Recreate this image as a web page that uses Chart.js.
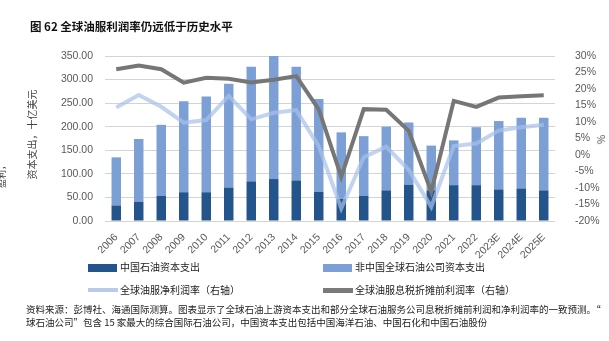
<!DOCTYPE html>
<html>
<head>
<meta charset="utf-8">
<script src="https://cdn.jsdelivr.net/npm/chart.js@4"></script>
<style>
  html, body { margin: 0; padding: 0; background: #fff; }
  #wrap { position: relative; width: 609px; height: 341px; overflow: hidden; font-family: "Noto Sans CJK SC", "Noto Sans", sans-serif; }
  #wrap canvas { position: absolute; left: 0; top: 0; }
  .txt { position: absolute; white-space: nowrap; color: #222; }
  .title { left: 30px; top: 18px; font-size: 11.5px; font-weight: bold; color: #111; }
  .ytitle { font-size: 10px; color: #444; transform-origin: center center; transform: rotate(-90deg); }
  .leg { font-size: 10px; line-height: 12px; color: #222; }
  .sw { position: absolute; }
  .src { left: 26px; font-size: 9.5px; line-height: 12px; color: #222; }
</style>
</head>
<body>
<div id="wrap">
  <canvas id="chart" width="609" height="341"></canvas>

  <div class="txt title">图 62 全球油服利润率仍远低于历史水平</div>

  <!-- axis titles -->
  <div class="txt ytitle" style="left:-14px; top:127px;">资本支出，十亿美元</div>
  <div class="txt ytitle" style="left:596px; top:132px;">%</div>
  <div class="txt ytitle" style="left:-12px; top:168px; font-size:9px;">盈利，</div>

  <!-- legend -->
  <div class="sw" style="left:88px; top:264px; width:29px; height:8px; background:#23548c;"></div>
  <div class="txt leg" style="left:120px; top:261px;">中国石油资本支出</div>
  <div class="sw" style="left:323px; top:264px; width:29px; height:8px; background:#7ca0d6;"></div>
  <div class="txt leg" style="left:355px; top:261px;">非中国全球石油公司资本支出</div>
  <div class="sw" style="left:88px; top:288px; width:30px; height:4px; background:#b9cbea;"></div>
  <div class="txt leg" style="left:120px; top:284px;">全球油服净利润率（右轴）</div>
  <div class="sw" style="left:323px; top:288px; width:30px; height:5px; background:#7a7a7a;"></div>
  <div class="txt leg" style="left:355px; top:284px;">全球油服息税折摊前利润率（右轴）</div>

  <!-- source -->
  <div class="txt src" style="top:303px;">资料来源：彭博社、海通国际测算。图表显示了全球石油上游资本支出和部分全球石油服务公司息税折摊前利润和净利润率的一致预测。“</div>
  <div class="txt src" style="top:316px;">球石油公司”包含 15 家最大的综合国际石油公司，中国资本支出包括中国海洋石油、中国石化和中国石油股份</div>
</div>

<script>
// 年份
const years = ['2006', '2007', '2008', '2009', '2010', '2011', '2012', '2013', '2014', '2015',
               '2016', '2017', '2018', '2019', '2020', '2021', '2022', '2023E', '2024E', '2025E'];

// 资本支出（十亿美元）
const chinaCapex = [33, 41, 53, 61, 61, 71, 84, 89, 86, 62, 47, 53, 65, 77, 65, 76, 76, 67, 69, 65];
const nonChinaCapex = [102, 133, 151, 193, 203, 220, 243, 261, 241, 197, 141, 127, 135, 132, 95, 95, 123, 145, 150, 154];

// 利润率（%，右轴）
const netMargin = [14.4, 18.2, 14.6, 9.8, 10.6, 17.9, 10.8, 12.8, 13.6, 2.7, -16.2, -0.7, 2.5, -4.5, -15.7, 2.7, 3.5, 7.4, 8.4, 9.2];
const ebitdaMargin = [26.0, 27.1, 26.0, 21.9, 23.4, 23.1, 22.0, 22.8, 23.9, 13.8, -6.6, 13.9, 13.7, 7.3, -11.1, 16.4, 14.6, 17.4, 17.8, 18.1];

// 坐标轴范围
const leftMin = 0, leftMax = 350, leftStep = 50;
const rightMin = -20, rightMax = 30, rightStep = 5;

const tickFont = { family: 'Liberation Sans', size: 10.5 };
const tickColor = '#595959';

new Chart(document.getElementById('chart'), {
    type: 'bar',
    data: {
        labels: years,
        datasets: [
            {
                label: '全球油服息税折摊前利润率（右轴）',
                type: 'line',
                data: ebitdaMargin,
                yAxisID: 'y1',
                borderColor: '#767676',
                borderWidth: 4,
                pointRadius: 0,
                tension: 0,
                order: 0
            },
            {
                label: '全球油服净利润率（右轴）',
                type: 'line',
                data: netMargin,
                yAxisID: 'y1',
                borderColor: 'rgba(168, 193, 234, 0.7)',
                borderWidth: 4,
                pointRadius: 0,
                tension: 0,
                order: 1
            },
            {
                label: '中国石油资本支出',
                data: chinaCapex,
                yAxisID: 'y',
                backgroundColor: '#23548c',
                barPercentage: 0.42,
                categoryPercentage: 1,
                stack: 'capex',
                order: 2
            },
            {
                label: '非中国全球石油公司资本支出',
                data: nonChinaCapex,
                yAxisID: 'y',
                backgroundColor: '#7ca0d6',
                barPercentage: 0.42,
                categoryPercentage: 1,
                stack: 'capex',
                order: 2
            }
        ]
    },
    options: {
        responsive: false,
        animation: false,
        layout: { padding: { top: 56, left: 0, right: 0, bottom: 0 } },
        plugins: {
            legend: { display: false },
            tooltip: { enabled: false }
        },
        scales: {
            x: {
                stacked: true,
                grid: { display: false },
                border: { display: false },
                ticks: {
                    font: tickFont,
                    color: tickColor,
                    minRotation: 45,
                    maxRotation: 45,
                    autoSkip: false,
                    padding: 2
                },
                afterFit: s => { s.height = 120; }
            },
            y: {
                stacked: true,
                position: 'left',
                min: leftMin,
                max: leftMax,
                grid: { color: '#d4d4d4', lineWidth: 1, drawTicks: false },
                border: { display: false },
                ticks: {
                    stepSize: leftStep,
                    font: tickFont,
                    color: tickColor,
                    padding: 12,
                    callback: v => v.toFixed(2)
                },
                afterFit: s => { s.width = 105; }
            },
            y1: {
                position: 'right',
                min: rightMin,
                max: rightMax,
                grid: { display: false },
                border: { display: false },
                ticks: {
                    stepSize: rightStep,
                    font: tickFont,
                    color: tickColor,
                    padding: 12,
                    callback: v => v + '%'
                },
                afterFit: s => { s.width = 54; }
            }
        }
    }
});
</script>
</body>
</html>
